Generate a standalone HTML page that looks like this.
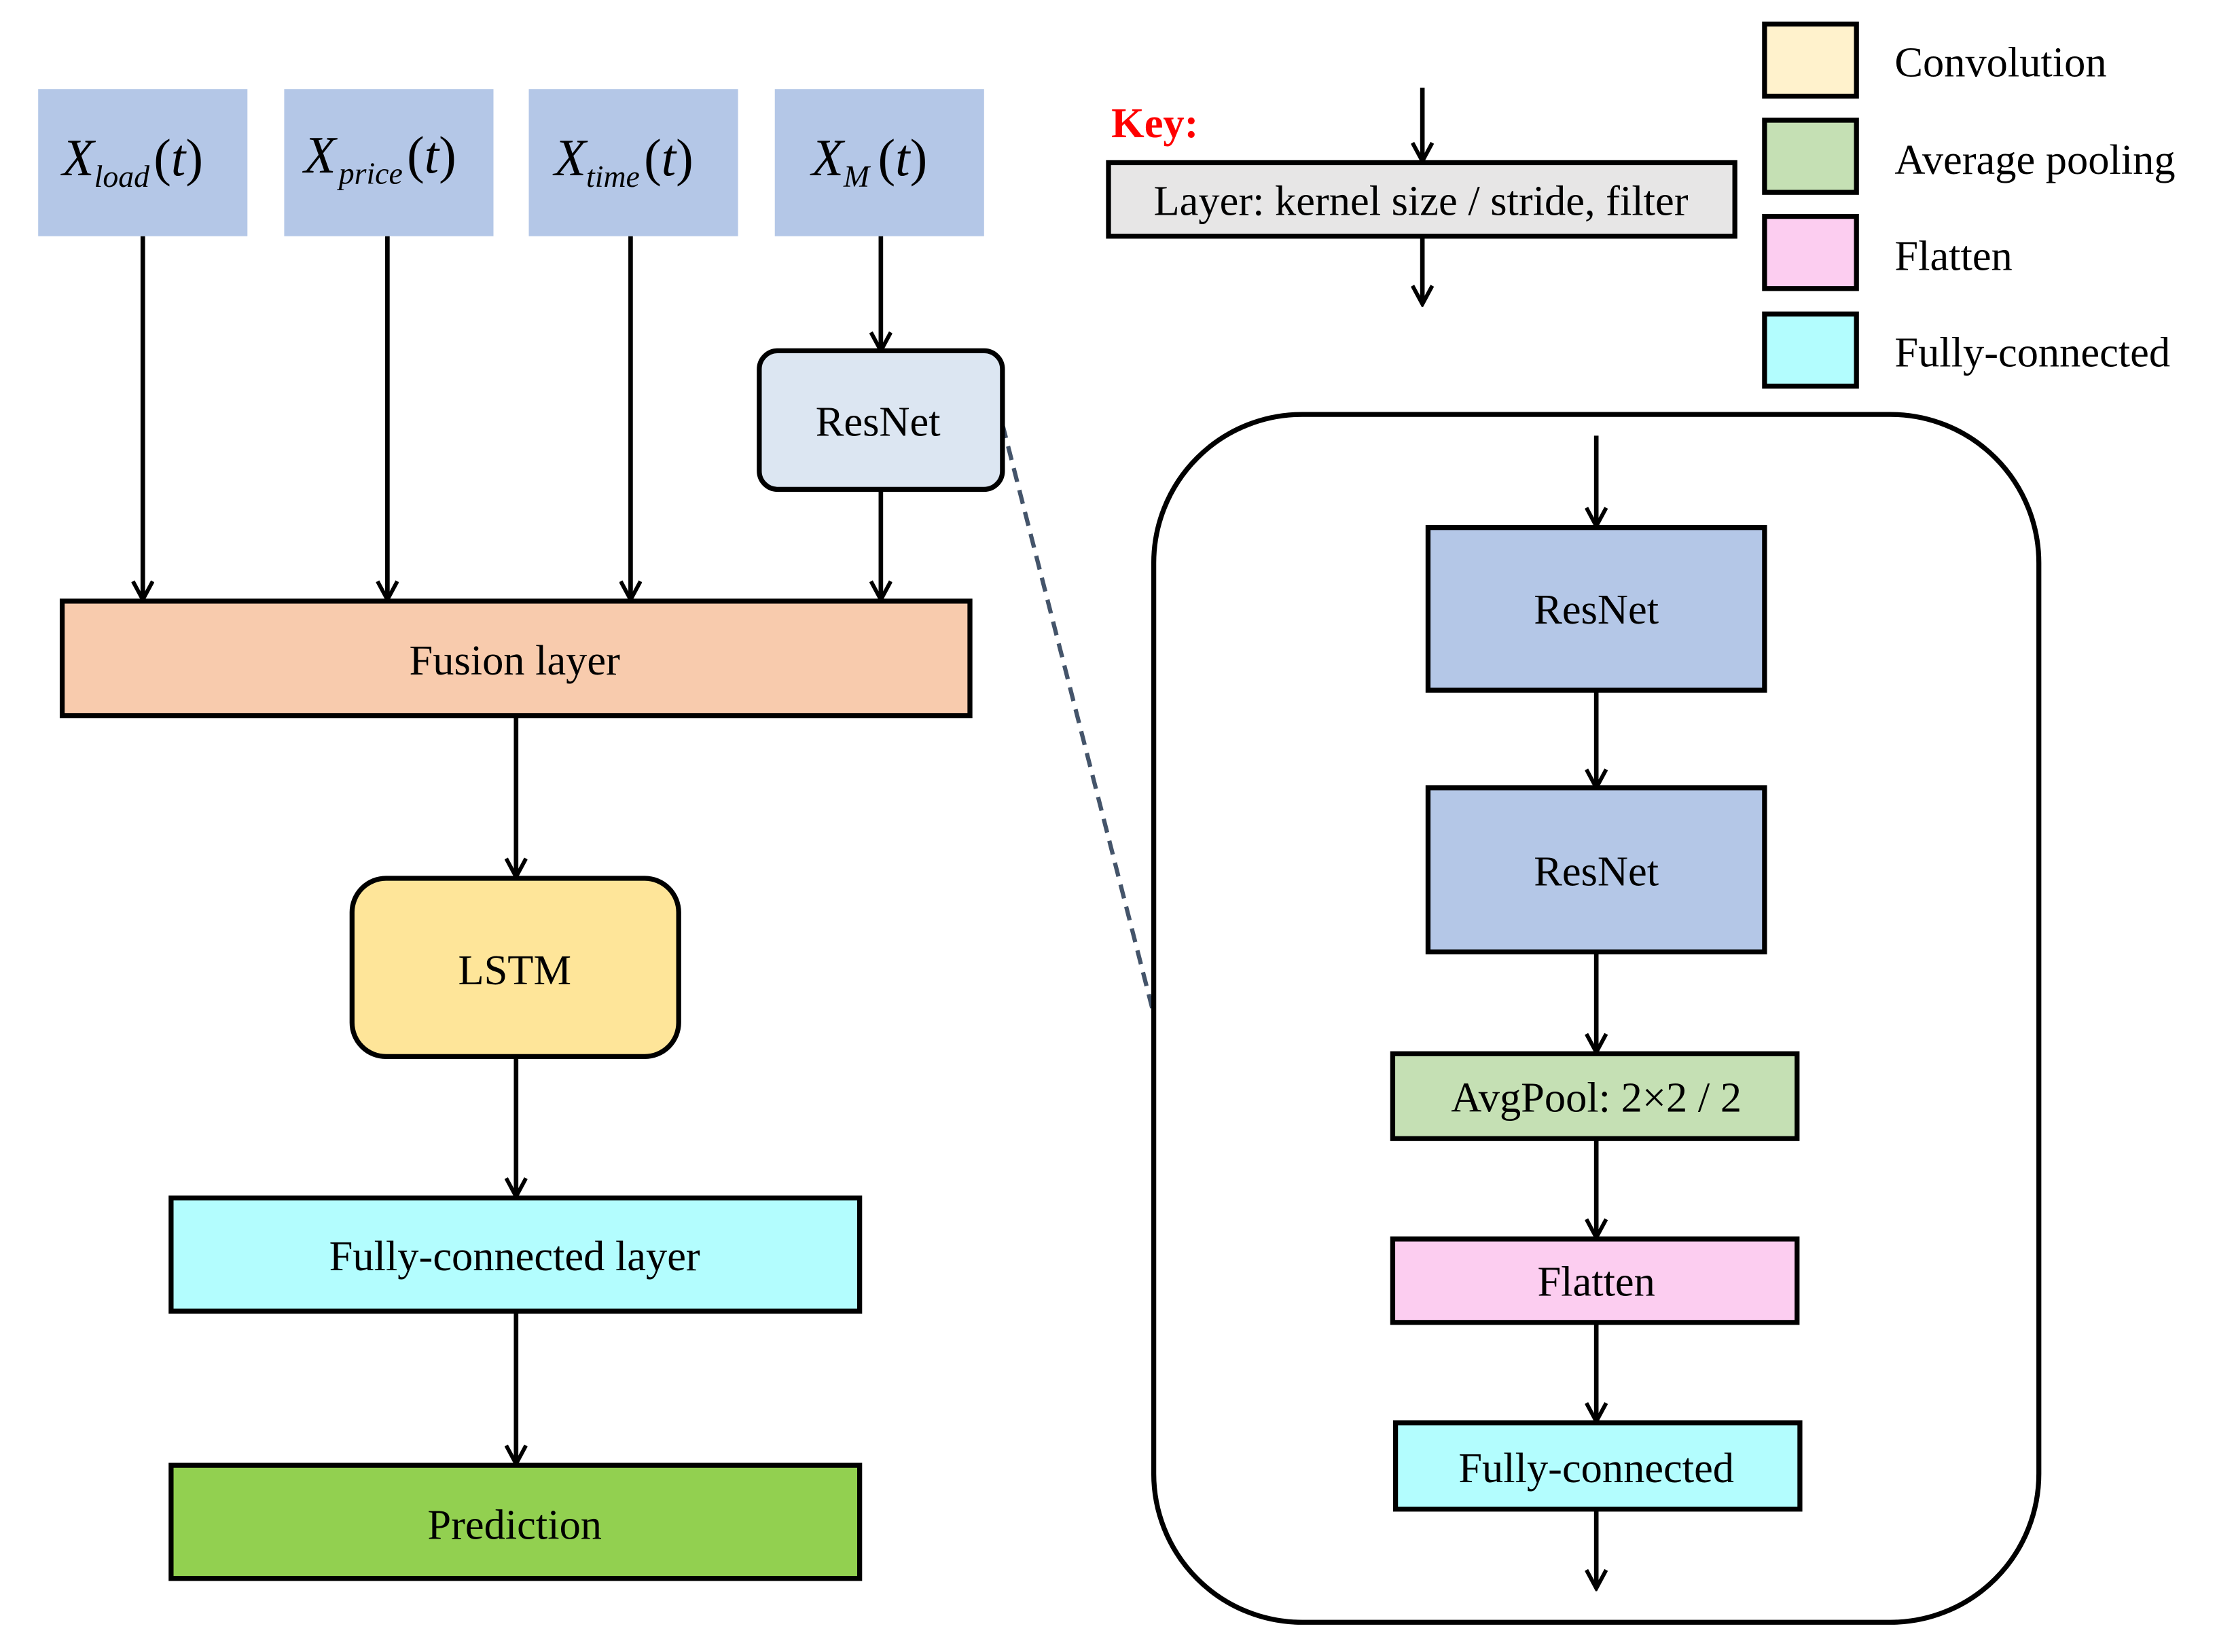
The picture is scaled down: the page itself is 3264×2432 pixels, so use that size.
<!DOCTYPE html>
<html><head><meta charset="utf-8"><style>
html,body{margin:0;padding:0;background:#fff;}
svg{display:block}
text{font-family:"Liberation Serif",serif;fill:#000}
</style></head><body>
<svg width="3264" height="2432" viewBox="0 0 1568 1168" preserveAspectRatio="none" xmlns="http://www.w3.org/2000/svg">
<defs>
<marker id="a" markerWidth="16" markerHeight="16" refX="13" refY="8" orient="auto" markerUnits="userSpaceOnUse" viewBox="0 0 16 16">
<path d="M1,1 L14,8 L1,15" fill="none" stroke="#000" stroke-width="2.8"/>
</marker>
</defs>
<g stroke="#000" stroke-width="3.2" fill="none">
<line x1="101" y1="167" x2="101" y2="423" marker-end="url(#a)"/>
<line x1="274" y1="167" x2="274" y2="423" marker-end="url(#a)"/>
<line x1="446" y1="167" x2="446" y2="423" marker-end="url(#a)"/>
<line x1="623" y1="167" x2="623" y2="247" marker-end="url(#a)"/>
<line x1="623" y1="346" x2="623" y2="423" marker-end="url(#a)"/>
<line x1="365" y1="506" x2="365" y2="619" marker-end="url(#a)"/>
<line x1="365" y1="747" x2="365" y2="845" marker-end="url(#a)"/>
<line x1="365" y1="927" x2="365" y2="1034" marker-end="url(#a)"/>
<line x1="1129" y1="308" x2="1129" y2="371" marker-end="url(#a)"/>
<line x1="1129" y1="488" x2="1129" y2="556" marker-end="url(#a)"/>
<line x1="1129" y1="673" x2="1129" y2="743" marker-end="url(#a)"/>
<line x1="1129" y1="805" x2="1129" y2="874" marker-end="url(#a)"/>
<line x1="1129" y1="935" x2="1129" y2="1004" marker-end="url(#a)"/>
<line x1="1129" y1="1067" x2="1129" y2="1122" marker-end="url(#a)"/>
<line x1="1006" y1="62" x2="1006" y2="113" marker-end="url(#a)"/>
<line x1="1006" y1="167" x2="1006" y2="214" marker-end="url(#a)"/>
</g>
<line x1="709" y1="300" x2="816" y2="717" stroke="#44546a" stroke-width="3" stroke-dasharray="10,6"/>
<g>
<rect x="27" y="63" width="148" height="104" fill="#b4c7e7"/>
<rect x="201" y="63" width="148" height="104" fill="#b4c7e7"/>
<rect x="374" y="63" width="148" height="104" fill="#b4c7e7"/>
<rect x="548" y="63" width="148" height="104" fill="#b4c7e7"/>
</g>
<g font-size="37" font-style="italic">
<text x="44" y="124">X<tspan font-size="22" dy="8">load</tspan><tspan dy="-8" dx="3" font-style="normal">(</tspan>t<tspan font-style="normal">)</tspan></text>
<text x="215" y="122">X<tspan font-size="22" dy="8" dx="2">price</tspan><tspan dy="-8" dx="3" font-style="normal">(</tspan>t<tspan font-style="normal">)</tspan></text>
<text x="392" y="124">X<tspan font-size="22" dy="8">time</tspan><tspan dy="-8" dx="3" font-style="normal">(</tspan>t<tspan font-style="normal">)</tspan></text>
<text x="574" y="124">X<tspan font-size="22" dy="8">M</tspan><tspan dy="-8" dx="6" font-style="normal">(</tspan>t<tspan font-style="normal">)</tspan></text>
</g>
<g stroke="#000" stroke-width="3.5">
<rect x="537" y="248" width="172" height="98" rx="13" fill="#dce6f2"/>
<rect x="44" y="425" width="642" height="81" fill="#f8cbad"/>
<rect x="249" y="621" width="231" height="126" rx="24" fill="#fee599"/>
<rect x="121" y="847" width="487" height="80" fill="#b3fdfe"/>
<rect x="121" y="1036" width="487" height="80" fill="#92d050"/>
<rect x="816" y="293" width="626" height="854" rx="105" fill="none"/>
<rect x="1010" y="373" width="238" height="115" fill="#b4c7e7"/>
<rect x="1010" y="557" width="238" height="116" fill="#b4c7e7"/>
<rect x="985" y="745" width="286" height="60" fill="#c5e0b4"/>
<rect x="985" y="876" width="286" height="59" fill="#fccdf0"/>
<rect x="987" y="1006" width="286" height="61" fill="#b3fdfe"/>
<rect x="784" y="115" width="443" height="52" fill="#e7e6e6"/>
<rect x="1248" y="17" width="65" height="51" fill="#fff2cc"/>
<rect x="1248" y="85" width="65" height="51" fill="#c5e0b4"/>
<rect x="1248" y="153" width="65" height="51" fill="#fccdf0"/>
<rect x="1248" y="222" width="65" height="51" fill="#b3fdfe"/>
</g>
<g font-size="30" text-anchor="middle">
<text x="621" y="308">ResNet</text>
<text x="364" y="477">Fusion layer</text>
<text x="364" y="696">LSTM</text>
<text x="364" y="898">Fully-connected layer</text>
<text x="364" y="1088">Prediction</text>
<text x="1129" y="441">ResNet</text>
<text x="1129" y="626">ResNet</text>
<text x="1129" y="786">AvgPool: 2×2 / 2</text>
<text x="1129" y="916">Flatten</text>
<text x="1129" y="1048">Fully-connected</text>
<text x="1005" y="152">Layer: kernel size / stride, filter</text>
</g>
<text x="786" y="97" font-size="30" font-weight="bold" style="fill:#ff0000">Key:</text>
<g font-size="30">
<text x="1340" y="54">Convolution</text>
<text x="1340" y="123">Average pooling</text>
<text x="1340" y="191">Flatten</text>
<text x="1340" y="259">Fully-connected</text>
</g>
</svg>
</body></html>
